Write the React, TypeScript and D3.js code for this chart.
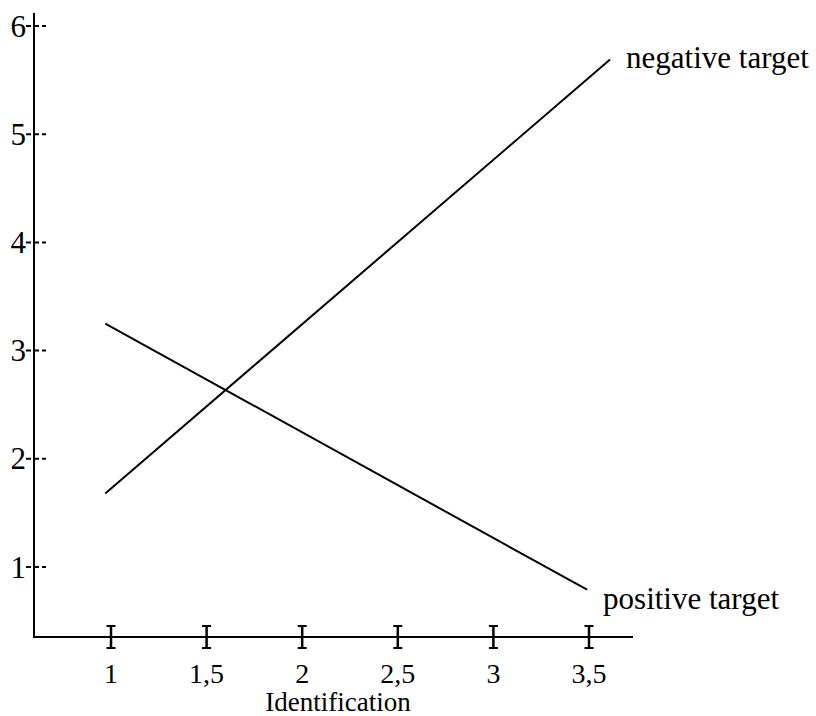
import React from "react";
import * as d3 from "d3";

const xTicks = [1, 1.5, 2, 2.5, 3, 3.5];
const xTickLabels = ["1", "1,5", "2", "2,5", "3", "3,5"];
const yTicks = [1, 2, 3, 4, 5, 6];
const yTickLabels = ["1", "2", "3", "4", "5", "6"];

const seriesNames = ["negative target", "positive target"];
const negativeX = [0.97, 3.61];
const negativeY = [1.68, 5.69];
const positiveX = [0.97, 3.49];
const positiveY = [3.25, 0.79];
const xTitle = "Identification";

const W = 816;
const H = 716;
const FONT = "'Liberation Serif', 'Times New Roman', serif";

export default function App() {
  const x = d3.scaleLinear().domain([1, 3.5]).range([111, 589]);
  const y = d3.scaleLinear().domain([1, 6]).range([567, 26]);
  const axisX = 34;
  const axisY = 637;

  const line = d3
    .line<[number, number]>()
    .x((d) => x(d[0]))
    .y((d) => y(d[1]));

  const series = [
    { name: seriesNames[0], pts: negativeX.map((v, i) => [v, negativeY[i]] as [number, number]), dx: 16, dy: 8 },
    { name: seriesNames[1], pts: positiveX.map((v, i) => [v, positiveY[i]] as [number, number]), dx: 16, dy: 19 },
  ];

  return (
    <svg
      width={W}
      height={H}
      style={{ position: "absolute", left: 0, top: 0, background: "#fff" }}
      fontFamily={FONT}
    >
      <line x1={axisX} y1={13} x2={axisX} y2={axisY + 1} stroke="#000" strokeWidth={2} />
      <line x1={axisX - 1} y1={axisY} x2={633} y2={axisY} stroke="#000" strokeWidth={2} />

      {yTicks.map((t, i) => (
        <g key={"y" + t}>
          <line
            x1={26}
            x2={46}
            y1={y(t)}
            y2={y(t)}
            stroke="#000"
            strokeWidth={2}
            strokeDasharray="5,3"
          />
          <text
            x={26}
            y={y(t)}
            textAnchor="end"
            dominantBaseline="central"
            fontSize={31}
            fill="#000"
          >
            {yTickLabels[i]}
          </text>
        </g>
      ))}

      {xTicks.map((t, i) => (
        <g key={"x" + t}>
          <line x1={x(t)} x2={x(t)} y1={626} y2={648} stroke="#000" strokeWidth={2.5} />
          <line x1={x(t) - 4.5} x2={x(t) + 4.5} y1={626} y2={626} stroke="#000" strokeWidth={2} />
          <line x1={x(t) - 4.5} x2={x(t) + 4.5} y1={648} y2={648} stroke="#000" strokeWidth={2} />
          <text x={x(t)} y={683} textAnchor="middle" fontSize={28} fill="#000">
            {xTickLabels[i]}
          </text>
        </g>
      ))}

      <text x={338} y={711} textAnchor="middle" fontSize={27} fill="#000">
        {xTitle}
      </text>

      {series.map((s) => {
        const last = s.pts[s.pts.length - 1];
        return (
          <g key={s.name}>
            <path d={line(s.pts) || ""} fill="none" stroke="#000" strokeWidth={2} />
            <text x={x(last[0]) + s.dx} y={y(last[1]) + s.dy} fontSize={31} fill="#000">
              {s.name}
            </text>
          </g>
        );
      })}
    </svg>
  );
}
